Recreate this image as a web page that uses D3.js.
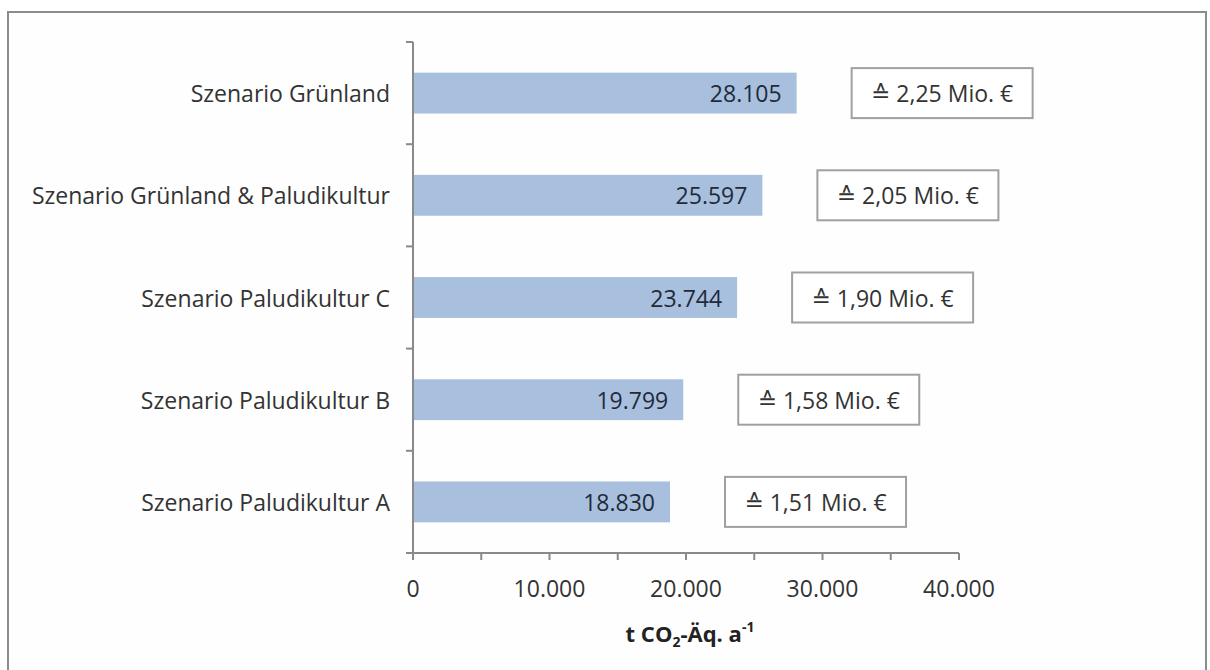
<!DOCTYPE html>
<html>
<head>
<meta charset="utf-8">
<script src="https://cdn.jsdelivr.net/npm/d3@7"></script>
<style>
  body { margin: 0; background: #fff; }
  svg text { font-family: "Open Sans", "DejaVu Sans", sans-serif; }
</style>
</head>
<body>
<div id="chart"></div>
<script>
// data
var scenarios = ["Szenario Grünland", "Szenario Grünland & Paludikultur", "Szenario Paludikultur C",
                 "Szenario Paludikultur B", "Szenario Paludikultur A"];
var emissions = [28105, 25597, 23744, 19799, 18830];
var euroMio = [2.25, 2.05, 1.90, 1.58, 1.51];
var xTicks = [0, 10000, 20000, 30000, 40000];
var xMinorTicks = [0, 5000, 10000, 15000, 20000, 25000, 30000, 35000, 40000];

var W = 1210, H = 670;
var de = d3.formatLocale({decimal: ",", thousands: ".", grouping: [3], currency: ["", " €"]});
var fmtInt = de.format(",d");
var fmtEur = de.format(".2f");

var svg = d3.select("#chart").append("svg")
    .attr("width", W).attr("height", H);

// outer frame
svg.append("rect")
    .attr("x", 8).attr("y", 12).attr("width", 1198).attr("height", 680)
    .attr("fill", "#fefefe").attr("stroke", "#8c8c8c").attr("stroke-width", 2);

var x = d3.scaleLinear().domain([0, 40000]).range([413, 959]);
var y = d3.scaleBand().domain(scenarios).range([42, 553]).paddingInner(0.6).paddingOuter(0.3);
var band = d3.scaleBand().domain(scenarios).range([42, 553]);

// bars
svg.selectAll("rect.bar").data(scenarios).enter().append("rect")
    .attr("class", "bar")
    .attr("x", x(0))
    .attr("y", function(d){ return y(d); })
    .attr("width", function(d, i){ return x(emissions[i]) - x(0); })
    .attr("height", y.bandwidth())
    .attr("fill", "#a8c0de");

// value labels
svg.selectAll("text.val").data(scenarios).enter().append("text")
    .attr("class", "val")
    .attr("x", function(d, i){ return x(emissions[i]) - 15; })
    .attr("y", function(d){ return y(d) + y.bandwidth()/2 + 9; })
    .attr("text-anchor", "end")
    .attr("font-size", 23)
    .attr("fill", "#1f2a3a")
    .text(function(d, i){ return fmtInt(emissions[i]); });

// category labels
svg.selectAll("text.cat").data(scenarios).enter().append("text")
    .attr("class", "cat")
    .attr("x", 390)
    .attr("y", function(d){ return y(d) + y.bandwidth()/2 + 9; })
    .attr("text-anchor", "end")
    .attr("font-size", 23)
    .attr("fill", "#333")
    .text(function(d){ return d; });

// euro boxes
var boxW = 181, boxH = 50;
var boxes = svg.selectAll("g.box").data(scenarios).enter().append("g")
    .attr("class", "box")
    .attr("transform", function(d, i){
        return "translate(" + (x(emissions[i]) + 55) + "," + (y(d) + y.bandwidth()/2 - boxH/2) + ")";
    });
boxes.append("rect")
    .attr("width", boxW).attr("height", boxH)
    .attr("fill", "#fff").attr("stroke", "#a0a0a0").attr("stroke-width", 2);
boxes.append("text")
    .attr("x", boxW/2).attr("y", boxH/2 + 9)
    .attr("text-anchor", "middle")
    .attr("font-size", 23)
    .attr("fill", "#333")
    .text(function(d, i){ return "\u2259 " + fmtEur(euroMio[i]) + " Mio. €"; });

// y axis line with ticks at band edges
svg.append("line")
    .attr("x1", x(0)).attr("x2", x(0)).attr("y1", 42).attr("y2", 553)
    .attr("stroke", "#8a8a8a").attr("stroke-width", 2);
var yEdges = scenarios.map(function(d){ return band(d); });
svg.selectAll("line.ytick").data(yEdges).enter().append("line")
    .attr("class", "ytick")
    .attr("x1", x(0) - 7).attr("x2", x(0))
    .attr("y1", function(d){ return d; }).attr("y2", function(d){ return d; })
    .attr("stroke", "#8a8a8a").attr("stroke-width", 2);

// x axis
var xAxis = svg.append("g").attr("transform", "translate(0,553)");
xAxis.append("line")
    .attr("x1", x(0) - 7).attr("x2", x(40000))
    .attr("stroke", "#8a8a8a").attr("stroke-width", 2);
xAxis.selectAll("line.xtick").data(xMinorTicks).enter().append("line")
    .attr("class", "xtick")
    .attr("x1", function(d){ return x(d); }).attr("x2", function(d){ return x(d); })
    .attr("y1", 0).attr("y2", 7)
    .attr("stroke", "#8a8a8a").attr("stroke-width", 2);
xAxis.selectAll("text.xlab").data(xTicks).enter().append("text")
    .attr("class", "xlab")
    .attr("x", function(d){ return x(d); })
    .attr("y", 44)
    .attr("text-anchor", "middle")
    .attr("font-size", 23)
    .attr("fill", "#333")
    .text(function(d){ return fmtInt(d); });

// axis title
var title = svg.append("text")
    .attr("x", 690).attr("y", 642)
    .attr("text-anchor", "middle")
    .attr("font-size", 22)
    .attr("font-weight", "bold")
    .attr("fill", "#222");
title.append("tspan").text("t CO");
title.append("tspan").attr("font-size", 14).attr("dy", 5).text("2");
title.append("tspan").attr("dy", -5).text("-Äq. a");
title.append("tspan").attr("font-size", 14).attr("dy", -10).text("-1");
</script>
</body>
</html>
